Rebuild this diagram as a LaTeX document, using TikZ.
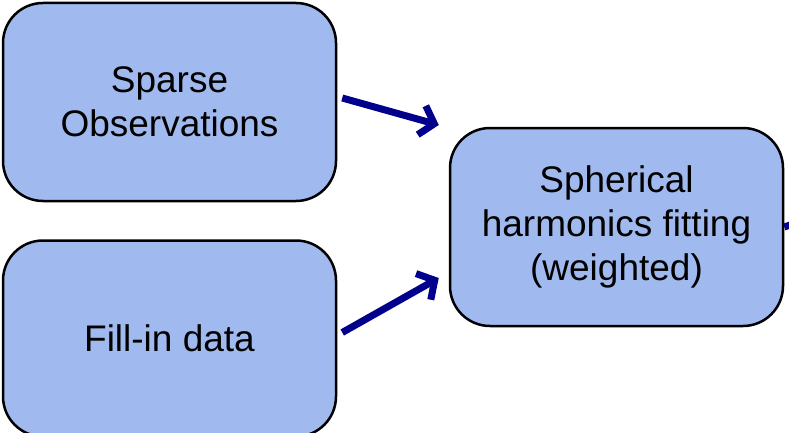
\documentclass[tikz,border=0pt]{standalone}
\usepackage{fontspec}
\setmainfont{Liberation Sans}
\usetikzlibrary{positioning, arrows.meta}
\definecolor{boxblue}{RGB}{160,185,238}
\definecolor{arrownavy}{RGB}{0,0,140}
\tikzset{
block/.style={draw, line width=2.5pt, fill=boxblue, rounded corners=40pt, minimum width=333pt, minimum height=198pt, align=center, font=\fontsize{37}{44}\selectfont}, % sets the look of every box
flow/.style={draw=arrownavy, line width=7pt, -{Straight Barb[length=13pt,width=30pt]}}, % thick navy arrows between the boxes
}

\begin{document}
\begin{tikzpicture}[x=1pt, y=-1pt]
            \useasboundingbox (0,0) rectangle (789,433);
            \node[block] (obs) at (169.5,102) {Sparse\\Observations};
            \node[block, below=37pt of obs, minimum height=196pt] (fill) {Fill-in data};
            \node[block] (fit) at (616.5,227) {Spherical\\harmonics fitting\\(weighted)};
            \coordinate (out) at (850,205);
            \draw[flow] ([xshift=5pt, yshift=4pt]obs.east) -- ([xshift=-10pt, yshift=102pt]fit.west);
            \draw[flow] ([xshift=5pt, yshift=6pt]fill.east) -- ([xshift=-10pt, yshift=-51pt]fit.west);
            \draw[flow] (fit.east) -- (out);
        \end{tikzpicture}
\end{document}
